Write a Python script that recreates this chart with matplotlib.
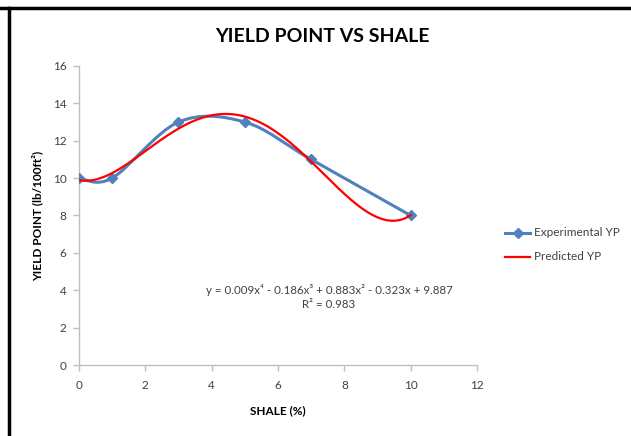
import numpy as np
import matplotlib
matplotlib.use("Agg")
import matplotlib.pyplot as plt
from matplotlib.path import Path
from matplotlib.patches import PathPatch
from matplotlib.lines import Line2D

plt.rcParams['font.family'] = ['Lato', 'DejaVu Sans']

shale = [0, 1, 3, 5, 7, 10]
yp_exp = [10, 10, 13, 13, 11, 8]
x_ticks = [0, 2, 4, 6, 8, 10, 12]
y_ticks = [0, 2, 4, 6, 8, 10, 12, 14, 16]
equation = "y = 0.009x\u2074 - 0.186x\u00b3 + 0.883x\u00b2 - 0.323x + 9.887"
r2_text = "R\u00b2 = 0.983"

BLUE = "#4F81BD"
RED = "#FF0000"
GRAY = "#404040"
AXC = "#BFBFBF"

fig = plt.figure(figsize=(6.31, 4.36), dpi=100)
ax = fig.add_axes([79/631, 1-365/436, (477-79)/631, (365-66)/436])

# Excel-style smoothed line (cubic Bezier through the points)
pts = np.column_stack([shale, yp_exp]).astype(float)
n = len(pts)
verts = [tuple(pts[0])]
codes = [Path.MOVETO]
for i in range(n - 1):
    p_prev = pts[i - 1] if i > 0 else pts[i]
    p0 = pts[i]
    p1 = pts[i + 1]
    p_next = pts[i + 2] if i + 2 < n else pts[i + 1]
    c1 = p0 + (p1 - p_prev) / 6.0
    c2 = p1 - (p_next - p0) / 6.0
    verts += [tuple(c1), tuple(c2), tuple(p1)]
    codes += [Path.CURVE4] * 3
patch = PathPatch(Path(verts, codes), facecolor='none', edgecolor=BLUE, lw=2.2,
                  capstyle='round', joinstyle='round', zorder=3)
ax.add_patch(patch)
ax.plot(shale, yp_exp, linestyle='none', marker='D', ms=5.5, color=BLUE, zorder=4)

# Polynomial trendline (order 4) fitted to the experimental data
coef = np.polyfit(shale, yp_exp, 4)
xf = np.linspace(min(shale), max(shale), 400)
ax.plot(xf, np.polyval(coef, xf), color=RED, lw=1.6, zorder=5)

ax.set_xlim(0, 12)
ax.set_ylim(0, 16)
ax.set_xticks(x_ticks)
ax.set_yticks(y_ticks)
for s in ['top', 'right']:
    ax.spines[s].set_visible(False)
for s in ['left', 'bottom']:
    ax.spines[s].set_color(AXC)
    ax.spines[s].set_linewidth(1.0)
ax.tick_params(axis='both', colors=AXC, labelcolor=GRAY, labelsize=8.5, length=4, width=1.0, direction='out')
ax.tick_params(axis='x', pad=7)
ax.tick_params(axis='y', pad=5)

fig.text(322/631, 1-36/436, "YIELD POINT VS SHALE", ha='center', va='center',
         fontsize=14, fontweight='bold', color='black')
fig.text(278/631, 1-411/436, "SHALE (%)", ha='center', va='center',
         fontsize=8.5, fontweight='bold', color='black')
fig.text(37/631, 1-216/436, "YIELD POINT (lb/100ft\u00b2)", ha='center', va='center',
         rotation=90, fontsize=8.5, fontweight='bold', color='black')

fig.text(329/631, 1-290/436, equation, ha='center', va='center', fontsize=8.3, color=GRAY)
fig.text(329/631, 1-305/436, r2_text, ha='center', va='center', fontsize=8.3, color=GRAY)

# legend
fig.add_artist(Line2D([505/631, 517.5/631, 530/631], [1-233/436]*3, color=BLUE, lw=2.2,
                      marker='D', markevery=[1], ms=5))
fig.text(534/631, 1-233/436, "Experimental YP", ha='left', va='center', fontsize=8.5, color=GRAY)
fig.add_artist(Line2D([505/631, 530/631], [1-257/436]*2, color=RED, lw=1.6))
fig.text(534/631, 1-257/436, "Predicted YP", ha='left', va='center', fontsize=8.5, color=GRAY)

# screenshot frame (top and left thick black border)
fig.add_artist(Line2D([0, 1], [1-8/436]*2, color='black', lw=2.5))
fig.add_artist(Line2D([9/631]*2, [0, 1-8/436], color='black', lw=2.5))

fig.savefig("out.png", dpi=100)
